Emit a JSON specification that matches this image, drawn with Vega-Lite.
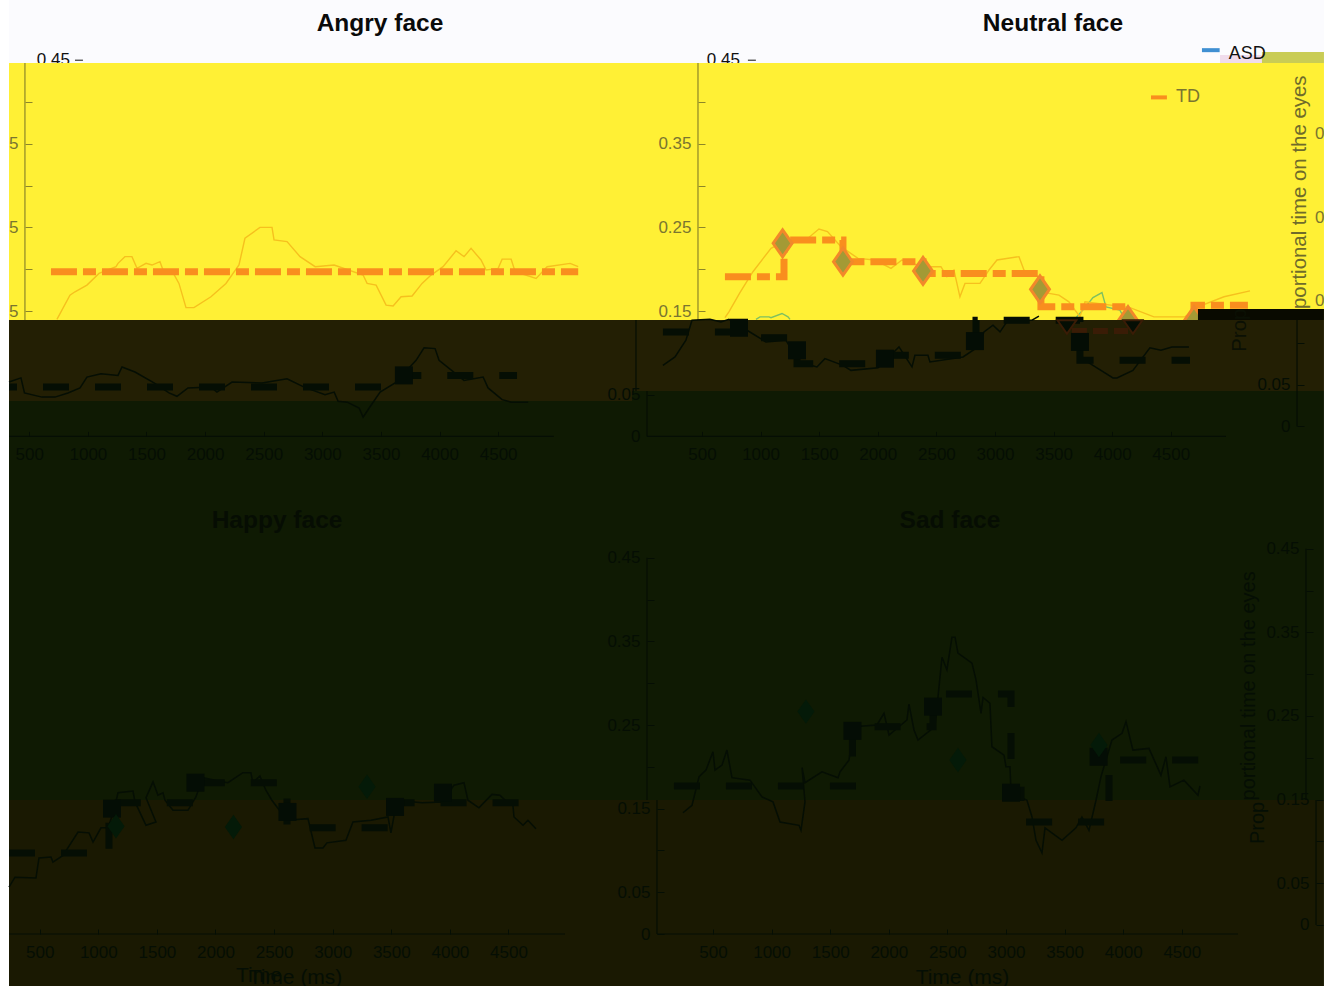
{"$schema":"https://vega.github.io/schema/vega-lite/v6.json","background":"#ffffff","padding":{"left":-5,"top":0,"right":0,"bottom":0},"autosize":{"type":"pad"},"config":{"view":{"stroke":null},"font":"Liberation Sans","text":{"font":"Liberation Sans"}},"datasets":{
"angryTdLine":[{"i":1,"t":736,"p":0.14},{"i":2,"t":847,"p":0.169},{"i":3,"t":890,"p":0.173},{"i":4,"t":992,"p":0.181},{"i":5,"t":1095,"p":0.195},{"i":6,"t":1240,"p":0.203},{"i":7,"t":1257,"p":0.207},{"i":8,"t":1316,"p":0.215},{"i":9,"t":1376,"p":0.215},{"i":10,"t":1419,"p":0.201},{"i":11,"t":1496,"p":0.207},{"i":12,"t":1547,"p":0.205},{"i":13,"t":1615,"p":0.209},{"i":14,"t":1641,"p":0.199},{"i":15,"t":1726,"p":0.196},{"i":16,"t":1777,"p":0.183},{"i":17,"t":1837,"p":0.154},{"i":18,"t":1905,"p":0.154},{"i":19,"t":2050,"p":0.167},{"i":20,"t":2178,"p":0.183},{"i":21,"t":2289,"p":0.205},{"i":22,"t":2340,"p":0.237},{"i":23,"t":2468,"p":0.25},{"i":24,"t":2571,"p":0.25},{"i":25,"t":2588,"p":0.235},{"i":26,"t":2699,"p":0.233},{"i":27,"t":2810,"p":0.215},{"i":28,"t":2939,"p":0.203},{"i":29,"t":3101,"p":0.205},{"i":30,"t":3348,"p":0.193},{"i":31,"t":3382,"p":0.183},{"i":32,"t":3459,"p":0.181},{"i":33,"t":3544,"p":0.157},{"i":34,"t":3604,"p":0.156},{"i":35,"t":3672,"p":0.167},{"i":36,"t":3766,"p":0.168},{"i":37,"t":3851,"p":0.183},{"i":38,"t":3928,"p":0.193},{"i":39,"t":4030,"p":0.203},{"i":40,"t":4141,"p":0.222},{"i":41,"t":4209,"p":0.215},{"i":42,"t":4269,"p":0.225},{"i":43,"t":4354,"p":0.211},{"i":44,"t":4397,"p":0.199},{"i":45,"t":4500,"p":0.201},{"i":46,"t":4534,"p":0.212},{"i":47,"t":4611,"p":0.212},{"i":48,"t":4645,"p":0.197},{"i":49,"t":4824,"p":0.189},{"i":50,"t":4918,"p":0.203},{"i":51,"t":5114,"p":0.207},{"i":52,"t":5183,"p":0.203}],
"angryTdMean":[{"i":1,"t":685,"p":0.197},{"i":2,"t":5183,"p":0.197}],
"angryAsdLine":[{"i":1,"t":327,"p":0.065},{"i":2,"t":429,"p":0.07},{"i":3,"t":459,"p":0.052},{"i":4,"t":608,"p":0.047},{"i":5,"t":719,"p":0.047},{"i":6,"t":830,"p":0.052},{"i":7,"t":933,"p":0.058},{"i":8,"t":992,"p":0.071},{"i":9,"t":1112,"p":0.075},{"i":10,"t":1257,"p":0.073},{"i":11,"t":1291,"p":0.083},{"i":12,"t":1402,"p":0.077},{"i":13,"t":1564,"p":0.064},{"i":14,"t":1692,"p":0.052},{"i":15,"t":1760,"p":0.048},{"i":16,"t":1854,"p":0.058},{"i":17,"t":2050,"p":0.059},{"i":18,"t":2101,"p":0.053},{"i":19,"t":2230,"p":0.065},{"i":20,"t":2486,"p":0.064},{"i":21,"t":2699,"p":0.069},{"i":22,"t":2845,"p":0.059},{"i":23,"t":3023,"p":0.05},{"i":24,"t":3101,"p":0.053},{"i":25,"t":3135,"p":0.042},{"i":26,"t":3212,"p":0.041},{"i":27,"t":3314,"p":0.034},{"i":28,"t":3348,"p":0.023},{"i":29,"t":3400,"p":0.034},{"i":30,"t":3493,"p":0.053},{"i":31,"t":3621,"p":0.064},{"i":32,"t":3800,"p":0.091},{"i":33,"t":3868,"p":0.106},{"i":34,"t":3962,"p":0.105},{"i":35,"t":3996,"p":0.091},{"i":36,"t":4209,"p":0.067},{"i":37,"t":4372,"p":0.071},{"i":38,"t":4414,"p":0.058},{"i":39,"t":4534,"p":0.044},{"i":40,"t":4611,"p":0.041},{"i":41,"t":4756,"p":0.041}],
"angryAsdMean":[{"i":1,"t":327,"p":0.059},{"i":2,"t":3621,"p":0.059},{"i":3,"t":3621,"p":0.073},{"i":4,"t":4661,"p":0.073}],
"angrySquares":[{"t":3696,"p":0.073}],
"neutralTdLine":[{"i":1,"t":696,"p":0.142},{"i":2,"t":730,"p":0.149},{"i":3,"t":824,"p":0.172},{"i":4,"t":935,"p":0.197},{"i":5,"t":1089,"p":0.225},{"i":6,"t":1200,"p":0.233},{"i":7,"t":1387,"p":0.235},{"i":8,"t":1498,"p":0.248},{"i":9,"t":1571,"p":0.245},{"i":10,"t":1686,"p":0.227},{"i":11,"t":1831,"p":0.213},{"i":12,"t":1976,"p":0.211},{"i":13,"t":2113,"p":0.201},{"i":14,"t":2206,"p":0.211},{"i":15,"t":2386,"p":0.203},{"i":16,"t":2539,"p":0.203},{"i":17,"t":2590,"p":0.191},{"i":18,"t":2650,"p":0.199},{"i":19,"t":2701,"p":0.167},{"i":20,"t":2744,"p":0.183},{"i":21,"t":2872,"p":0.183},{"i":22,"t":2949,"p":0.199},{"i":23,"t":3017,"p":0.211},{"i":24,"t":3205,"p":0.215},{"i":25,"t":3247,"p":0.199},{"i":26,"t":3375,"p":0.191},{"i":27,"t":3427,"p":0.172},{"i":28,"t":3546,"p":0.169},{"i":29,"t":3631,"p":0.161},{"i":30,"t":3725,"p":0.143},{"i":31,"t":3768,"p":0.161},{"i":32,"t":4152,"p":0.154},{"i":33,"t":4356,"p":0.143},{"i":34,"t":4621,"p":0.143},{"i":35,"t":4732,"p":0.155},{"i":36,"t":4954,"p":0.167},{"i":37,"t":5176,"p":0.174}],
"neutralTdMean":[{"i":1,"seg":0,"t":696,"p":0.191},{"i":2,"seg":0,"t":1200,"p":0.191},{"i":3,"seg":0,"t":1200,"p":0.235},{"i":4,"seg":0,"t":1703,"p":0.235},{"i":5,"seg":0,"t":1703,"p":0.209},{"i":6,"seg":0,"t":2386,"p":0.209},{"i":7,"seg":0,"t":2386,"p":0.195},{"i":8,"seg":0,"t":3392,"p":0.195},{"i":9,"seg":0,"t":3392,"p":0.155},{"i":10,"seg":0,"t":4135,"p":0.155},{"i":11,"seg":0,"t":4135,"p":0.139},{"i":12,"seg":1,"t":4698,"p":0.139},{"i":13,"seg":1,"t":4698,"p":0.157},{"i":14,"seg":1,"t":5158,"p":0.157}],
"neutralGreen":[{"i":1,"seg":0,"t":961,"p":0.14},{"i":2,"seg":0,"t":995,"p":0.143},{"i":3,"seg":0,"t":1072,"p":0.143},{"i":4,"seg":0,"t":1089,"p":0.142},{"i":5,"seg":0,"t":1183,"p":0.147},{"i":6,"seg":0,"t":1234,"p":0.143},{"i":7,"seg":0,"t":1251,"p":0.14},{"i":8,"seg":1,"t":3691,"p":0.142},{"i":9,"seg":1,"t":3768,"p":0.154},{"i":10,"seg":1,"t":3836,"p":0.166},{"i":11,"seg":1,"t":3913,"p":0.172},{"i":12,"seg":1,"t":3947,"p":0.155},{"i":13,"seg":1,"t":4066,"p":0.151},{"i":14,"seg":1,"t":4100,"p":0.142}],
"neutralDiamonds":[{"t":1188,"p":0.231},{"t":1703,"p":0.209},{"t":2386,"p":0.198},{"t":3384,"p":0.176},{"t":4135,"p":0.139},{"t":4698,"p":0.139}],
"neutralHalfDiamonds":[{"t":3614,"p":0.139},{"t":4177,"p":0.139}],
"neutralAsdLine":[{"i":1,"seg":0,"t":167,"p":0.085},{"i":2,"seg":0,"t":270,"p":0.095},{"i":3,"seg":0,"t":363,"p":0.115},{"i":4,"seg":0,"t":415,"p":0.139},{"i":5,"seg":0,"t":568,"p":0.14},{"i":6,"seg":0,"t":662,"p":0.137},{"i":7,"seg":0,"t":730,"p":0.14},{"i":8,"seg":0,"t":884,"p":0.127},{"i":9,"seg":0,"t":1046,"p":0.113},{"i":10,"seg":0,"t":1217,"p":0.115},{"i":11,"seg":0,"t":1328,"p":0.089},{"i":12,"seg":0,"t":1481,"p":0.083},{"i":13,"seg":0,"t":1549,"p":0.093},{"i":14,"seg":0,"t":1703,"p":0.085},{"i":15,"seg":0,"t":1771,"p":0.079},{"i":16,"seg":0,"t":2002,"p":0.082},{"i":17,"seg":0,"t":2181,"p":0.107},{"i":18,"seg":0,"t":2292,"p":0.083},{"i":19,"seg":0,"t":2317,"p":0.097},{"i":20,"seg":0,"t":2428,"p":0.097},{"i":21,"seg":0,"t":2445,"p":0.089},{"i":22,"seg":0,"t":2727,"p":0.095},{"i":23,"seg":0,"t":2855,"p":0.107},{"i":24,"seg":0,"t":2906,"p":0.125},{"i":25,"seg":0,"t":2983,"p":0.133},{"i":26,"seg":0,"t":3043,"p":0.125},{"i":27,"seg":0,"t":3111,"p":0.139},{"i":28,"seg":0,"t":3316,"p":0.139},{"i":29,"seg":0,"t":3375,"p":0.144},{"i":30,"seg":1,"t":3708,"p":0.107},{"i":31,"seg":1,"t":3708,"p":0.094},{"i":32,"seg":1,"t":3802,"p":0.088},{"i":33,"seg":1,"t":4007,"p":0.07},{"i":34,"seg":1,"t":4041,"p":0.07},{"i":35,"seg":1,"t":4177,"p":0.079},{"i":36,"seg":1,"t":4322,"p":0.106},{"i":37,"seg":1,"t":4416,"p":0.103},{"i":38,"seg":1,"t":4510,"p":0.107},{"i":39,"seg":1,"t":4655,"p":0.107}],
"neutralAsdMean":[{"i":1,"t":167,"p":0.125},{"i":2,"t":816,"p":0.125},{"i":3,"t":816,"p":0.118},{"i":4,"t":1311,"p":0.118},{"i":5,"t":1311,"p":0.087},{"i":6,"t":2019,"p":0.087},{"i":7,"t":2019,"p":0.097},{"i":8,"t":2838,"p":0.097},{"i":9,"t":2838,"p":0.139},{"i":10,"t":3725,"p":0.139},{"i":11,"t":3725,"p":0.091},{"i":12,"t":4664,"p":0.091}],
"neutralSquares":[{"t":816,"p":0.13},{"t":1311,"p":0.103},{"t":2061,"p":0.093},{"t":2829,"p":0.114},{"t":3725,"p":0.113}],
"happyAsdLine":[{"i":1,"t":238,"p":0.056},{"i":2,"t":289,"p":0.068},{"i":3,"t":468,"p":0.067},{"i":4,"t":494,"p":0.091},{"i":5,"t":596,"p":0.092},{"i":6,"t":613,"p":0.086},{"i":7,"t":699,"p":0.094},{"i":8,"t":827,"p":0.122},{"i":9,"t":921,"p":0.121},{"i":10,"t":955,"p":0.11},{"i":11,"t":1023,"p":0.127},{"i":12,"t":1083,"p":0.127},{"i":13,"t":1134,"p":0.148},{"i":14,"t":1168,"p":0.169},{"i":15,"t":1296,"p":0.171},{"i":16,"t":1313,"p":0.158},{"i":17,"t":1407,"p":0.13},{"i":18,"t":1492,"p":0.134},{"i":19,"t":1407,"p":0.163},{"i":20,"t":1467,"p":0.182},{"i":21,"t":1509,"p":0.166},{"i":22,"t":1552,"p":0.169},{"i":23,"t":1569,"p":0.16},{"i":24,"t":1637,"p":0.148},{"i":25,"t":1765,"p":0.148},{"i":26,"t":1833,"p":0.164},{"i":27,"t":1892,"p":0.187},{"i":28,"t":2055,"p":0.182},{"i":29,"t":2106,"p":0.181},{"i":30,"t":2234,"p":0.193},{"i":31,"t":2302,"p":0.193},{"i":32,"t":2319,"p":0.181},{"i":33,"t":2379,"p":0.189},{"i":34,"t":2430,"p":0.172},{"i":35,"t":2481,"p":0.16},{"i":36,"t":2610,"p":0.136},{"i":37,"t":2789,"p":0.138},{"i":38,"t":2849,"p":0.103},{"i":39,"t":2917,"p":0.103},{"i":40,"t":2951,"p":0.109},{"i":41,"t":3113,"p":0.112},{"i":42,"t":3173,"p":0.134},{"i":43,"t":3327,"p":0.136},{"i":44,"t":3472,"p":0.14},{"i":45,"t":3497,"p":0.121},{"i":46,"t":3532,"p":0.148},{"i":47,"t":3549,"p":0.16},{"i":48,"t":3762,"p":0.157},{"i":49,"t":3941,"p":0.158},{"i":50,"t":4035,"p":0.178},{"i":51,"t":4120,"p":0.181},{"i":52,"t":4154,"p":0.16},{"i":53,"t":4248,"p":0.151},{"i":54,"t":4359,"p":0.167},{"i":55,"t":4427,"p":0.166},{"i":56,"t":4487,"p":0.158},{"i":57,"t":4538,"p":0.154},{"i":58,"t":4547,"p":0.14},{"i":59,"t":4624,"p":0.13},{"i":60,"t":4666,"p":0.136},{"i":61,"t":4734,"p":0.126}],
"happyAsdMean":[{"i":1,"t":238,"p":0.097},{"i":2,"t":1091,"p":0.097},{"i":3,"t":1091,"p":0.157},{"i":4,"t":1850,"p":0.157},{"i":5,"t":1850,"p":0.181},{"i":6,"t":2610,"p":0.181},{"i":7,"t":2610,"p":0.127},{"i":8,"t":3532,"p":0.127},{"i":9,"t":3532,"p":0.157},{"i":10,"t":4684,"p":0.157}],
"happySquares":[{"t":1117,"p":0.15},{"t":1829,"p":0.181},{"t":2614,"p":0.146},{"t":3532,"p":0.152},{"t":3941,"p":0.169}],
"happyDiamonds":[{"t":1151,"p":0.129},{"t":2153,"p":0.128},{"t":3293,"p":0.176}],
"sadAsdLine":[{"i":1,"t":244,"p":0.145},{"i":2,"t":321,"p":0.154},{"i":3,"t":381,"p":0.188},{"i":4,"t":440,"p":0.196},{"i":5,"t":500,"p":0.218},{"i":6,"t":517,"p":0.196},{"i":7,"t":577,"p":0.202},{"i":8,"t":619,"p":0.22},{"i":9,"t":662,"p":0.187},{"i":10,"t":816,"p":0.184},{"i":11,"t":918,"p":0.164},{"i":12,"t":1012,"p":0.158},{"i":13,"t":1072,"p":0.134},{"i":14,"t":1234,"p":0.13},{"i":15,"t":1251,"p":0.124},{"i":16,"t":1285,"p":0.158},{"i":17,"t":1260,"p":0.199},{"i":18,"t":1285,"p":0.181},{"i":19,"t":1430,"p":0.194},{"i":20,"t":1567,"p":0.187},{"i":21,"t":1584,"p":0.194},{"i":22,"t":1660,"p":0.208},{"i":23,"t":1703,"p":0.248},{"i":24,"t":1899,"p":0.25},{"i":25,"t":1959,"p":0.264},{"i":26,"t":2002,"p":0.238},{"i":27,"t":2155,"p":0.256},{"i":28,"t":2172,"p":0.275},{"i":29,"t":2215,"p":0.244},{"i":30,"t":2249,"p":0.232},{"i":31,"t":2394,"p":0.248},{"i":32,"t":2428,"p":0.295},{"i":33,"t":2454,"p":0.331},{"i":34,"t":2496,"p":0.316},{"i":35,"t":2539,"p":0.355},{"i":36,"t":2565,"p":0.355},{"i":37,"t":2590,"p":0.336},{"i":38,"t":2710,"p":0.324},{"i":39,"t":2744,"p":0.304},{"i":40,"t":2787,"p":0.264},{"i":41,"t":2804,"p":0.283},{"i":42,"t":2863,"p":0.276},{"i":43,"t":2880,"p":0.224},{"i":44,"t":2983,"p":0.214},{"i":45,"t":3000,"p":0.2},{"i":46,"t":3034,"p":0.2},{"i":47,"t":3043,"p":0.169},{"i":48,"t":3179,"p":0.16},{"i":49,"t":3222,"p":0.14},{"i":50,"t":3256,"p":0.112},{"i":51,"t":3307,"p":0.097},{"i":52,"t":3333,"p":0.127},{"i":53,"t":3478,"p":0.112},{"i":54,"t":3597,"p":0.127},{"i":55,"t":3648,"p":0.14},{"i":56,"t":3708,"p":0.124},{"i":57,"t":3768,"p":0.16},{"i":58,"t":3810,"p":0.188},{"i":59,"t":3904,"p":0.232},{"i":60,"t":3990,"p":0.24},{"i":61,"t":4024,"p":0.254},{"i":62,"t":4083,"p":0.22},{"i":63,"t":4220,"p":0.222},{"i":64,"t":4322,"p":0.19},{"i":65,"t":4365,"p":0.212},{"i":66,"t":4399,"p":0.176},{"i":67,"t":4518,"p":0.184},{"i":68,"t":4638,"p":0.166},{"i":69,"t":4655,"p":0.177}],
"sadAsdMean":[{"i":1,"t":167,"p":0.177},{"i":2,"t":1690,"p":0.177},{"i":3,"t":1690,"p":0.248},{"i":4,"t":2377,"p":0.248},{"i":5,"t":2377,"p":0.287},{"i":6,"t":3043,"p":0.287},{"i":7,"t":3043,"p":0.172},{"i":8,"t":3128,"p":0.172},{"i":9,"t":3128,"p":0.134},{"i":10,"t":3879,"p":0.134},{"i":11,"t":3879,"p":0.208},{"i":12,"t":4655,"p":0.208}],
"sadSquares":[{"t":1690,"p":0.243},{"t":2377,"p":0.272},{"t":3043,"p":0.169},{"t":3790,"p":0.212}],
"sadDiamonds":[{"t":1293,"p":0.266},{"t":2590,"p":0.208},{"t":3793,"p":0.226}]
},
"spacing":0,"bounds":"flush","align":"each","columns":3,
"concat":[
{"width":623,"height":490,"resolve":{"scale":{"x":"independent","y":"independent"},"axis":{"x":"independent","y":"independent"}},"layer":[
{"data":{"values":[{"band":"white","t0":327,"t1":5642,"p0":0.522,"p1":0.4467}]},"mark":"rect","encoding":{"x":{"field":"t0","type":"quantitative","scale":{"domain":[327,5642],"nice":false,"zero":false},"axis":null},"x2":{"field":"t1"},"y":{"field":"p0","type":"quantitative","scale":{"domain":[-0.0641,0.522],"nice":false,"zero":false},"axis":null},"y2":{"field":"p1"},"color":{"field":"band","type":"nominal","scale":{"domain":["white","yellow","olive","green","pink","noise","black","brown"],"range":["#fbfbfe","#fff035","#231f04","#0f1a03","#f0dcec","#c9cc55","#090a00","#1a1902"]},"legend":null}}},
{"data":{"values":[{"t":847,"p":0.45,"label":"0.45"}]},"mark":{"type":"text","align":"right","baseline":"middle","fontSize":17,"color":"#111111"},"encoding":{"x":{"field":"t","type":"quantitative","scale":{"domain":[327,5642],"nice":false,"zero":false},"axis":null},"y":{"field":"p","type":"quantitative","scale":{"domain":[-0.0641,0.522],"nice":false,"zero":false},"axis":null},"text":{"field":"label"}}},
{"data":{"values":[{"t0":890,"t1":958,"p":0.45}]},"mark":{"type":"rule","color":"#111111","strokeWidth":1},"encoding":{"x":{"field":"t0","type":"quantitative","scale":{"domain":[327,5642],"nice":false,"zero":false},"axis":null},"x2":{"field":"t1"},"y":{"field":"p","type":"quantitative","scale":{"domain":[-0.0641,0.522],"nice":false,"zero":false},"axis":null}}},
{"data":{"values":[{"band":"yellow","t0":327,"t1":5642,"p0":0.4467,"p1":0.1392}]},"mark":"rect","encoding":{"x":{"field":"t0","type":"quantitative","scale":{"domain":[327,5642],"nice":false,"zero":false},"axis":null},"x2":{"field":"t1"},"y":{"field":"p0","type":"quantitative","scale":{"domain":[-0.0641,0.522],"nice":false,"zero":false},"axis":null},"y2":{"field":"p1"},"color":{"field":"band","type":"nominal","scale":{"domain":["white","yellow","olive","green","pink","noise","black","brown"],"range":["#fbfbfe","#fff035","#231f04","#0f1a03","#f0dcec","#c9cc55","#090a00","#1a1902"]},"legend":null}}},
{"data":{"values":[{"t":463,"p0":0.4467,"p1":0.1392}]},"mark":{"type":"rule","color":"#8c8628","strokeWidth":1.2},"encoding":{"x":{"field":"t","type":"quantitative","scale":{"domain":[327,5642],"nice":false,"zero":false},"axis":null},"y":{"field":"p0","type":"quantitative","scale":{"domain":[-0.0641,0.522],"nice":false,"zero":false},"axis":{"orient":"left","offset":-16,"minExtent":0,"values":[0.4,0.35,0.3,0.25,0.2,0.15],"domain":false,"grid":false,"title":null,"tickSize":-7,"tickColor":"#8c8628","labelColor":"#7a7530","labelFontSize":17,"labelFont":"Liberation Sans","labelPadding":14,"labelExpr":"round(datum.value*100)%10==5 ? '5' : ''","zindex":1}},"y2":{"field":"p1"}}},
{"data":{"name":"angryTdLine"},"mark":{"type":"line","color":"#f6c01e","strokeWidth":1.4},"encoding":{"x":{"field":"t","type":"quantitative","scale":{"domain":[327,5642],"nice":false,"zero":false},"axis":null},"y":{"field":"p","type":"quantitative","scale":{"domain":[-0.0641,0.522],"nice":false,"zero":false},"axis":null},"order":{"field":"i"}}},
{"data":{"name":"angryTdMean"},"mark":{"type":"line","color":"#f98e1e","strokeWidth":7,"strokeDash":[26,6,13,6]},"encoding":{"x":{"field":"t","type":"quantitative","scale":{"domain":[327,5642],"nice":false,"zero":false},"axis":null},"y":{"field":"p","type":"quantitative","scale":{"domain":[-0.0641,0.522],"nice":false,"zero":false},"axis":null},"order":{"field":"i"}}},
{"data":{"values":[{"band":"olive","t0":327,"t1":5642,"p0":0.1392,"p1":0.0423},{"band":"green","t0":327,"t1":5642,"p0":0.0423,"p1":-0.0641}]},"mark":"rect","encoding":{"x":{"field":"t0","type":"quantitative","scale":{"domain":[327,5642],"nice":false,"zero":false},"axis":null},"x2":{"field":"t1"},"y":{"field":"p0","type":"quantitative","scale":{"domain":[-0.0641,0.522],"nice":false,"zero":false},"axis":null},"y2":{"field":"p1"},"color":{"field":"band","type":"nominal","scale":{"domain":["white","yellow","olive","green","pink","noise","black","brown"],"range":["#fbfbfe","#fff035","#231f04","#0f1a03","#f0dcec","#c9cc55","#090a00","#1a1902"]},"legend":null}}},
{"data":{"values":[{"t0":327,"t1":4974,"p":0}]},"mark":{"type":"rule","color":"#050e04","strokeWidth":1.2},"encoding":{"x":{"field":"t0","type":"quantitative","scale":{"domain":[327,5642],"nice":false,"zero":false},"axis":{"orient":"bottom","offset":-53.6,"values":[500,1000,1500,2000,2500,3000,3500,4000,4500],"format":"d","domain":false,"grid":false,"title":null,"tickSize":-5,"tickColor":"#050e04","labelColor":"#050e04","labelFontSize":17,"labelFont":"Liberation Sans","labelPadding":15,"labelOverlap":false,"labelFlush":false,"zindex":1}},"x2":{"field":"t1"},"y":{"field":"p","type":"quantitative","scale":{"domain":[-0.0641,0.522],"nice":false,"zero":false},"axis":null}}},
{"data":{"name":"angryAsdLine"},"mark":{"type":"line","color":"#050e04","strokeWidth":1.5},"encoding":{"x":{"field":"t","type":"quantitative","scale":{"domain":[327,5642],"nice":false,"zero":false},"axis":null},"y":{"field":"p","type":"quantitative","scale":{"domain":[-0.0641,0.522],"nice":false,"zero":false},"axis":null},"order":{"field":"i"}}},
{"data":{"name":"angryAsdMean"},"mark":{"type":"line","color":"#050e04","strokeWidth":7,"strokeDash":[26,26],"strokeDashOffset":18},"encoding":{"x":{"field":"t","type":"quantitative","scale":{"domain":[327,5642],"nice":false,"zero":false},"axis":null},"y":{"field":"p","type":"quantitative","scale":{"domain":[-0.0641,0.522],"nice":false,"zero":false},"axis":null},"order":{"field":"i"}}},
{"data":{"name":"angrySquares"},"mark":{"type":"point","shape":"square","filled":true,"size":324,"color":"#040d05","opacity":1},"encoding":{"x":{"field":"t","type":"quantitative","scale":{"domain":[327,5642],"nice":false,"zero":false},"axis":null},"y":{"field":"p","type":"quantitative","scale":{"domain":[-0.0641,0.522],"nice":false,"zero":false},"axis":null}}},
{"data":{"values":[{"t":3492,"p":0.4935,"label":"Angry face"}]},"mark":{"type":"text","align":"center","baseline":"middle","fontSize":24.5,"fontWeight":"bold","color":"#0a0a0a"},"encoding":{"x":{"field":"t","type":"quantitative","scale":{"domain":[327,5642],"nice":false,"zero":false},"axis":null},"y":{"field":"p","type":"quantitative","scale":{"domain":[-0.0641,0.522],"nice":false,"zero":false},"axis":null},"text":{"field":"label"}}}
]},
{"width":605,"height":490,"resolve":{"scale":{"x":"independent","y":"independent"},"axis":{"x":"independent","y":"independent"}},"layer":[
{"data":{"values":[{"band":"white","t0":-97,"t1":5807,"p0":0.522,"p1":0.4467},{"band":"pink","t0":4920,"t1":5278,"p0":0.4562,"p1":0.4467},{"band":"noise","t0":5278,"t1":5807,"p0":0.4598,"p1":0.4467}]},"mark":"rect","encoding":{"x":{"field":"t0","type":"quantitative","scale":{"domain":[-97,5065],"nice":false,"zero":false},"axis":null},"x2":{"field":"t1"},"y":{"field":"p0","type":"quantitative","scale":{"domain":[-0.0641,0.522],"nice":false,"zero":false},"axis":null},"y2":{"field":"p1"},"color":{"field":"band","type":"nominal","scale":{"domain":["white","yellow","olive","green","pink","noise","black","brown"],"range":["#fbfbfe","#fff035","#231f04","#0f1a03","#f0dcec","#c9cc55","#090a00","#1a1902"]},"legend":null}}},
{"data":{"values":[{"t":824,"p":0.45,"label":"0.45"}]},"mark":{"type":"text","align":"right","baseline":"middle","fontSize":17,"color":"#111111"},"encoding":{"x":{"field":"t","type":"quantitative","scale":{"domain":[-97,5065],"nice":false,"zero":false},"axis":null},"y":{"field":"p","type":"quantitative","scale":{"domain":[-0.0641,0.522],"nice":false,"zero":false},"axis":null},"text":{"field":"label"}}},
{"data":{"values":[{"t":4994,"p":0.457,"label":"ASD"}]},"mark":{"type":"text","align":"left","baseline":"middle","fontSize":18,"color":"#111111"},"encoding":{"x":{"field":"t","type":"quantitative","scale":{"domain":[-97,5065],"nice":false,"zero":false},"axis":null},"y":{"field":"p","type":"quantitative","scale":{"domain":[-0.0641,0.522],"nice":false,"zero":false},"axis":null},"text":{"field":"label"}}},
{"data":{"values":[{"t0":892,"t1":960,"p":0.45}]},"mark":{"type":"rule","color":"#111111","strokeWidth":1},"encoding":{"x":{"field":"t0","type":"quantitative","scale":{"domain":[-97,5065],"nice":false,"zero":false},"axis":null},"x2":{"field":"t1"},"y":{"field":"p","type":"quantitative","scale":{"domain":[-0.0641,0.522],"nice":false,"zero":false},"axis":null}}},
{"data":{"values":[{"t0":4766,"t1":4917,"p":0.462}]},"mark":{"type":"rule","color":"#3f8fd2","strokeWidth":4},"encoding":{"x":{"field":"t0","type":"quantitative","scale":{"domain":[-97,5065],"nice":false,"zero":false},"axis":null},"x2":{"field":"t1"},"y":{"field":"p","type":"quantitative","scale":{"domain":[-0.0641,0.522],"nice":false,"zero":false},"axis":null}}},
{"data":{"values":[{"band":"yellow","t0":-97,"t1":5807,"p0":0.4467,"p1":0.1392}]},"mark":"rect","encoding":{"x":{"field":"t0","type":"quantitative","scale":{"domain":[-97,5065],"nice":false,"zero":false},"axis":null},"x2":{"field":"t1"},"y":{"field":"p0","type":"quantitative","scale":{"domain":[-0.0641,0.522],"nice":false,"zero":false},"axis":null},"y2":{"field":"p1"},"color":{"field":"band","type":"nominal","scale":{"domain":["white","yellow","olive","green","pink","noise","black","brown"],"range":["#fbfbfe","#fff035","#231f04","#0f1a03","#f0dcec","#c9cc55","#090a00","#1a1902"]},"legend":null}}},
{"data":{"values":[{"t":466,"p0":0.4467,"p1":0.1392}]},"mark":{"type":"rule","color":"#8c8628","strokeWidth":1.2},"encoding":{"x":{"field":"t","type":"quantitative","scale":{"domain":[-97,5065],"nice":false,"zero":false},"axis":null},"y":{"field":"p0","type":"quantitative","scale":{"domain":[-0.0641,0.522],"nice":false,"zero":false},"axis":{"orient":"left","offset":-66,"values":[0.4,0.35,0.3,0.25,0.2,0.15],"domain":false,"grid":false,"title":null,"tickSize":-7,"tickColor":"#8c8628","labelColor":"#7a7530","labelFontSize":17,"labelFont":"Liberation Sans","labelPadding":14,"labelExpr":"round(datum.value*100)%10==5 ? format(datum.value,'.2f') : ''","zindex":1}},"y2":{"field":"p1"}}},
{"data":{"name":"neutralGreen"},"mark":{"type":"line","color":"#7fc060","strokeWidth":1.4},"encoding":{"x":{"field":"t","type":"quantitative","scale":{"domain":[-97,5065],"nice":false,"zero":false},"axis":null},"y":{"field":"p","type":"quantitative","scale":{"domain":[-0.0641,0.522],"nice":false,"zero":false},"axis":null},"detail":{"field":"seg"},"order":{"field":"i"}}},
{"data":{"name":"neutralTdLine"},"mark":{"type":"line","color":"#f6c01e","strokeWidth":1.4},"encoding":{"x":{"field":"t","type":"quantitative","scale":{"domain":[-97,5065],"nice":false,"zero":false},"axis":null},"y":{"field":"p","type":"quantitative","scale":{"domain":[-0.0641,0.522],"nice":false,"zero":false},"axis":null},"order":{"field":"i"}}},
{"data":{"name":"neutralTdMean"},"mark":{"type":"line","color":"#f98e1e","strokeWidth":7,"strokeDash":[26,6,13,6]},"encoding":{"x":{"field":"t","type":"quantitative","scale":{"domain":[-97,5065],"nice":false,"zero":false},"axis":null},"y":{"field":"p","type":"quantitative","scale":{"domain":[-0.0641,0.522],"nice":false,"zero":false},"axis":null},"detail":{"field":"seg"},"order":{"field":"i"}}},
{"data":{"name":"neutralDiamonds"},"mark":{"type":"point","shape":"M0,-1L0.7,0L0,1L-0.7,0Z","filled":true,"size":729,"fill":"#a39a35","stroke":"#f2882a","strokeWidth":3,"opacity":1},"encoding":{"x":{"field":"t","type":"quantitative","scale":{"domain":[-97,5065],"nice":false,"zero":false},"axis":null},"y":{"field":"p","type":"quantitative","scale":{"domain":[-0.0641,0.522],"nice":false,"zero":false},"axis":null}}},
{"data":{"values":[{"t0":4331,"t1":4467,"p":0.4055}]},"mark":{"type":"rule","color":"#f98e1e","strokeWidth":4},"encoding":{"x":{"field":"t0","type":"quantitative","scale":{"domain":[-97,5065],"nice":false,"zero":false},"axis":null},"x2":{"field":"t1"},"y":{"field":"p","type":"quantitative","scale":{"domain":[-0.0641,0.522],"nice":false,"zero":false},"axis":null}}},
{"data":{"values":[{"t":4544,"p":0.4055,"label":"TD"}]},"mark":{"type":"text","align":"left","baseline":"middle","fontSize":18,"color":"#7a7530"},"encoding":{"x":{"field":"t","type":"quantitative","scale":{"domain":[-97,5065],"nice":false,"zero":false},"axis":null},"y":{"field":"p","type":"quantitative","scale":{"domain":[-0.0641,0.522],"nice":false,"zero":false},"axis":null},"text":{"field":"label"}}},
{"data":{"values":[{"band":"black","t0":4732,"t1":5807,"p0":0.1524,"p1":0.1392},{"band":"olive","t0":-97,"t1":5807,"p0":0.1392,"p1":0.0543},{"band":"green","t0":-97,"t1":5807,"p0":0.0543,"p1":-0.0641}]},"mark":"rect","encoding":{"x":{"field":"t0","type":"quantitative","scale":{"domain":[-97,5065],"nice":false,"zero":false},"axis":null},"x2":{"field":"t1"},"y":{"field":"p0","type":"quantitative","scale":{"domain":[-0.0641,0.522],"nice":false,"zero":false},"axis":null},"y2":{"field":"p1"},"color":{"field":"band","type":"nominal","scale":{"domain":["white","yellow","olive","green","pink","noise","black","brown"],"range":["#fbfbfe","#fff035","#231f04","#0f1a03","#f0dcec","#c9cc55","#090a00","#1a1902"]},"legend":null}}},
{"data":{"values":[{"t":-63,"p0":0.1392,"p1":0.0543},{"t":31,"p0":0.0543,"p1":0}]},"mark":{"type":"rule","color":"#050e04","strokeWidth":1.2},"encoding":{"x":{"field":"t","type":"quantitative","scale":{"domain":[-97,5065],"nice":false,"zero":false},"axis":null},"y":{"field":"p0","type":"quantitative","scale":{"domain":[-0.0641,0.522],"nice":false,"zero":false},"axis":{"orient":"left","offset":-15,"values":[0.05,0],"domain":false,"grid":false,"title":null,"tickSize":-7,"tickColor":"#050e04","labelColor":"#050e04","labelFontSize":17,"labelFont":"Liberation Sans","labelPadding":14,"labelExpr":"datum.value==0 ? '0' : format(datum.value,'.2f')","zindex":1}},"y2":{"field":"p1"}}},
{"data":{"values":[{"t0":31,"t1":4971,"p":0}]},"mark":{"type":"rule","color":"#050e04","strokeWidth":1.2},"encoding":{"x":{"field":"t0","type":"quantitative","scale":{"domain":[-97,5065],"nice":false,"zero":false},"axis":{"orient":"bottom","offset":-53.6,"values":[500,1000,1500,2000,2500,3000,3500,4000,4500],"format":"d","domain":false,"grid":false,"title":null,"tickSize":-5,"tickColor":"#050e04","labelColor":"#050e04","labelFontSize":17,"labelFont":"Liberation Sans","labelPadding":15,"labelOverlap":false,"labelFlush":false,"zindex":1}},"x2":{"field":"t1"},"y":{"field":"p","type":"quantitative","scale":{"domain":[-0.0641,0.522],"nice":false,"zero":false},"axis":null}}},
{"data":{"values":[{"t0":3657,"t1":4135,"p":0.126}]},"mark":{"type":"rule","color":"#3a1c06","strokeWidth":6,"strokeDash":[15,6]},"encoding":{"x":{"field":"t0","type":"quantitative","scale":{"domain":[-97,5065],"nice":false,"zero":false},"axis":null},"x2":{"field":"t1"},"y":{"field":"p","type":"quantitative","scale":{"domain":[-0.0641,0.522],"nice":false,"zero":false},"axis":null}}},
{"data":{"name":"neutralAsdLine"},"mark":{"type":"line","color":"#050e04","strokeWidth":1.5},"encoding":{"x":{"field":"t","type":"quantitative","scale":{"domain":[-97,5065],"nice":false,"zero":false},"axis":null},"y":{"field":"p","type":"quantitative","scale":{"domain":[-0.0641,0.522],"nice":false,"zero":false},"axis":null},"detail":{"field":"seg"},"order":{"field":"i"}}},
{"data":{"name":"neutralAsdMean"},"mark":{"type":"line","color":"#050e04","strokeWidth":7,"strokeDash":[26,26]},"encoding":{"x":{"field":"t","type":"quantitative","scale":{"domain":[-97,5065],"nice":false,"zero":false},"axis":null},"y":{"field":"p","type":"quantitative","scale":{"domain":[-0.0641,0.522],"nice":false,"zero":false},"axis":null},"order":{"field":"i"}}},
{"data":{"name":"neutralSquares"},"mark":{"type":"point","shape":"square","filled":true,"size":324,"color":"#040d05","opacity":1},"encoding":{"x":{"field":"t","type":"quantitative","scale":{"domain":[-97,5065],"nice":false,"zero":false},"axis":null},"y":{"field":"p","type":"quantitative","scale":{"domain":[-0.0641,0.522],"nice":false,"zero":false},"axis":null}}},
{"data":{"name":"neutralHalfDiamonds"},"mark":{"type":"point","shape":"M-0.7,0L0.7,0L0,1Z","filled":true,"size":729,"fill":"#050e04","stroke":"#3a1c06","strokeWidth":2,"opacity":1},"encoding":{"x":{"field":"t","type":"quantitative","scale":{"domain":[-97,5065],"nice":false,"zero":false},"axis":null},"y":{"field":"p","type":"quantitative","scale":{"domain":[-0.0641,0.522],"nice":false,"zero":false},"axis":null}}},
{"data":{"values":[{"t":3495,"p":0.4935,"label":"Neutral face"}]},"mark":{"type":"text","align":"center","baseline":"middle","fontSize":24.5,"fontWeight":"bold","color":"#0a0a0a"},"encoding":{"x":{"field":"t","type":"quantitative","scale":{"domain":[-97,5065],"nice":false,"zero":false},"axis":null},"y":{"field":"p","type":"quantitative","scale":{"domain":[-0.0641,0.522],"nice":false,"zero":false},"axis":null},"text":{"field":"label"}}}
]},
{"width":87,"height":490,"resolve":{"scale":{"x":"independent","y":"independent"},"axis":{"x":"independent","y":"independent"}},"layer":[
{"data":{"values":[{"t":5577,"p0":0.1273,"p1":0}]},"mark":{"type":"rule","color":"#050e04","strokeWidth":1.2},"encoding":{"x":{"field":"t","type":"quantitative","scale":{"domain":[5065,5807],"nice":false,"zero":false},"axis":null},"y":{"field":"p0","type":"quantitative","scale":{"domain":[-0.0761,0.51],"nice":false,"zero":false},"axis":{"orient":"left","offset":-60,"values":[0.1,0.05,0],"domain":false,"grid":false,"title":null,"tickSize":-7,"tickColor":"#050e04","labelColor":"#050e04","labelFontSize":17,"labelFont":"Liberation Sans","labelPadding":14,"labelExpr":"datum.value==0 ? '0' : (round(datum.value*100)==5 ? '0.05' : '')","zindex":1}},"y2":{"field":"p1"}}},
{"data":{"values":[{"t":5602,"p":0.28,"label":"portional time on the eyes"}]},"mark":{"type":"text","align":"center","baseline":"middle","angle":270,"fontSize":20.4,"color":"#6f6b2a"},"encoding":{"x":{"field":"t","type":"quantitative","scale":{"domain":[5065,5807],"nice":false,"zero":false},"axis":null},"y":{"field":"p","type":"quantitative","scale":{"domain":[-0.0761,0.51],"nice":false,"zero":false},"axis":{"orient":"left","offset":-91,"values":[0.35,0.25,0.15],"domain":false,"ticks":false,"grid":false,"title":null,"labelColor":"#7a7530","labelFontSize":17,"labelFont":"Liberation Sans","labelPadding":4,"labelExpr":"'0'","zindex":1}},"text":{"field":"label"}}},
{"data":{"values":[{"t":5090,"p":0.115,"label":"Prop"}]},"mark":{"type":"text","align":"center","baseline":"middle","angle":270,"fontSize":20.4,"color":"#0b1004"},"encoding":{"x":{"field":"t","type":"quantitative","scale":{"domain":[5065,5807],"nice":false,"zero":false},"axis":null},"y":{"field":"p","type":"quantitative","scale":{"domain":[-0.0761,0.51],"nice":false,"zero":false},"axis":null},"text":{"field":"label"}}}
]},
{"width":623,"height":496,"resolve":{"scale":{"x":"independent","y":"independent"},"axis":{"x":"independent","y":"independent"}},"layer":[
{"data":{"values":[{"band":"green","t0":238,"t1":5554,"p0":0.5311,"p1":0.1603},{"band":"brown","t0":238,"t1":5554,"p0":0.1603,"p1":-0.0622}]},"mark":"rect","encoding":{"x":{"field":"t0","type":"quantitative","scale":{"domain":[238,5554],"nice":false,"zero":false},"axis":null},"x2":{"field":"t1"},"y":{"field":"p0","type":"quantitative","scale":{"domain":[-0.0622,0.5311],"nice":false,"zero":false},"axis":null},"y2":{"field":"p1"},"color":{"field":"band","type":"nominal","scale":{"domain":["white","yellow","olive","green","pink","noise","black","brown"],"range":["#fbfbfe","#fff035","#231f04","#0f1a03","#f0dcec","#c9cc55","#090a00","#1a1902"]},"legend":null}}},
{"data":{"values":[{"t0":238,"t1":4982,"p":0}]},"mark":{"type":"rule","color":"#050e04","strokeWidth":1.2},"encoding":{"x":{"field":"t0","type":"quantitative","scale":{"domain":[238,5554],"nice":false,"zero":false},"axis":{"orient":"bottom","offset":-52,"values":[500,1000,1500,2000,2500,3000,3500,4000,4500],"format":"d","domain":false,"grid":false,"title":"Time (ms)","titleFontSize":21,"titleFontWeight":"normal","titleFont":"Liberation Sans","titleColor":"#050e04","titleX":286,"titleY":32,"titleAlign":"center","titleBaseline":"top","tickSize":-5,"tickColor":"#050e04","labelColor":"#050e04","labelFontSize":17,"labelFont":"Liberation Sans","labelPadding":15,"labelOverlap":false,"labelFlush":false,"zindex":1}},"x2":{"field":"t1"},"y":{"field":"p","type":"quantitative","scale":{"domain":[-0.0622,0.5311],"nice":false,"zero":false},"axis":null}}},
{"data":{"name":"happyAsdLine"},"mark":{"type":"line","color":"#050e04","strokeWidth":1.5},"encoding":{"x":{"field":"t","type":"quantitative","scale":{"domain":[238,5554],"nice":false,"zero":false},"axis":null},"y":{"field":"p","type":"quantitative","scale":{"domain":[-0.0622,0.5311],"nice":false,"zero":false},"axis":null},"order":{"field":"i"}}},
{"data":{"name":"happyAsdMean"},"mark":{"type":"line","color":"#050e04","strokeWidth":7,"strokeDash":[26,26]},"encoding":{"x":{"field":"t","type":"quantitative","scale":{"domain":[238,5554],"nice":false,"zero":false},"axis":null},"y":{"field":"p","type":"quantitative","scale":{"domain":[-0.0622,0.5311],"nice":false,"zero":false},"axis":null},"order":{"field":"i"}}},
{"data":{"name":"happySquares"},"mark":{"type":"point","shape":"square","filled":true,"size":324,"color":"#040d05","opacity":1},"encoding":{"x":{"field":"t","type":"quantitative","scale":{"domain":[238,5554],"nice":false,"zero":false},"axis":null},"y":{"field":"p","type":"quantitative","scale":{"domain":[-0.0622,0.5311],"nice":false,"zero":false},"axis":null}}},
{"data":{"name":"happyDiamonds"},"mark":{"type":"point","shape":"M0,-1L0.7,0L0,1L-0.7,0Z","filled":true,"size":600,"fill":"#041a08","stroke":"#041a08","strokeWidth":0,"opacity":1},"encoding":{"x":{"field":"t","type":"quantitative","scale":{"domain":[238,5554],"nice":false,"zero":false},"axis":null},"y":{"field":"p","type":"quantitative","scale":{"domain":[-0.0622,0.5311],"nice":false,"zero":false},"axis":null}}},
{"data":{"values":[{"t":2525,"p":0.494,"label":"Happy face"}]},"mark":{"type":"text","align":"center","baseline":"middle","fontSize":24.5,"fontWeight":"bold","color":"#060d03"},"encoding":{"x":{"field":"t","type":"quantitative","scale":{"domain":[238,5554],"nice":false,"zero":false},"axis":null},"y":{"field":"p","type":"quantitative","scale":{"domain":[-0.0622,0.5311],"nice":false,"zero":false},"axis":null},"text":{"field":"label"}}},
{"data":{"values":[{"t":2175,"p":-0.05,"label":"Time"}]},"mark":{"type":"text","align":"left","baseline":"middle","fontSize":21,"color":"#050e04"},"encoding":{"x":{"field":"t","type":"quantitative","scale":{"domain":[238,5554],"nice":false,"zero":false},"axis":null},"y":{"field":"p","type":"quantitative","scale":{"domain":[-0.0622,0.5311],"nice":false,"zero":false},"axis":null},"text":{"field":"label"}}}
]},
{"width":605,"height":496,"resolve":{"scale":{"x":"independent","y":"independent"},"axis":{"x":"independent","y":"independent"}},"layer":[
{"data":{"values":[{"band":"green","t0":-191,"t1":5713,"p0":0.5311,"p1":0.1603},{"band":"brown","t0":-191,"t1":5713,"p0":0.1603,"p1":-0.0622}]},"mark":"rect","encoding":{"x":{"field":"t0","type":"quantitative","scale":{"domain":[-191,4971],"nice":false,"zero":false},"axis":null},"x2":{"field":"t1"},"y":{"field":"p0","type":"quantitative","scale":{"domain":[-0.0622,0.5311],"nice":false,"zero":false},"axis":null},"y2":{"field":"p1"},"color":{"field":"band","type":"nominal","scale":{"domain":["white","yellow","olive","green","pink","noise","black","brown"],"range":["#fbfbfe","#fff035","#231f04","#0f1a03","#f0dcec","#c9cc55","#090a00","#1a1902"]},"legend":null}}},
{"data":{"values":[{"t":-63,"p0":0.45,"p1":0.1603}]},"mark":{"type":"rule","color":"#050e04","strokeWidth":1.2},"encoding":{"x":{"field":"t","type":"quantitative","scale":{"domain":[-191,4971],"nice":false,"zero":false},"axis":null},"y":{"field":"p0","type":"quantitative","scale":{"domain":[-0.0622,0.5311],"nice":false,"zero":false},"axis":{"orient":"left","offset":-15,"values":[0.45,0.4,0.35,0.3,0.25,0.2],"domain":false,"grid":false,"title":null,"tickSize":-7,"tickColor":"#050e04","labelColor":"#050e04","labelFontSize":17,"labelFont":"Liberation Sans","labelPadding":14,"labelExpr":"round(datum.value*100)%10==5 ? format(datum.value,'.2f') : ''","zindex":1}},"y2":{"field":"p1"}}},
{"data":{"values":[{"t":22,"p0":0.1603,"p1":0}]},"mark":{"type":"rule","color":"#050e04","strokeWidth":1.2},"encoding":{"x":{"field":"t","type":"quantitative","scale":{"domain":[-191,4971],"nice":false,"zero":false},"axis":null},"y":{"field":"p0","type":"quantitative","scale":{"domain":[-0.0622,0.5311],"nice":false,"zero":false},"axis":{"orient":"left","offset":-25,"values":[0.15,0.1,0.05,0],"domain":false,"grid":false,"title":null,"tickSize":-7,"tickColor":"#050e04","labelColor":"#050e04","labelFontSize":17,"labelFont":"Liberation Sans","labelPadding":14,"labelExpr":"datum.value==0 ? '0' : (round(datum.value*100)%10==5 ? format(datum.value,'.2f') : '')","zindex":1}},"y2":{"field":"p1"}}},
{"data":{"values":[{"t0":22,"t1":4979,"p":0}]},"mark":{"type":"rule","color":"#050e04","strokeWidth":1.2},"encoding":{"x":{"field":"t0","type":"quantitative","scale":{"domain":[-191,4971],"nice":false,"zero":false},"axis":{"orient":"bottom","offset":-52,"values":[500,1000,1500,2000,2500,3000,3500,4000,4500],"format":"d","domain":false,"grid":false,"title":"Time (ms)","titleFontSize":21,"titleFontWeight":"normal","titleFont":"Liberation Sans","titleColor":"#050e04","titleX":330,"titleY":32,"titleAlign":"center","titleBaseline":"top","tickSize":-5,"tickColor":"#050e04","labelColor":"#050e04","labelFontSize":17,"labelFont":"Liberation Sans","labelPadding":15,"labelOverlap":false,"labelFlush":false,"zindex":1}},"x2":{"field":"t1"},"y":{"field":"p","type":"quantitative","scale":{"domain":[-0.0622,0.5311],"nice":false,"zero":false},"axis":null}}},
{"data":{"name":"sadAsdLine"},"mark":{"type":"line","color":"#050e04","strokeWidth":1.5},"encoding":{"x":{"field":"t","type":"quantitative","scale":{"domain":[-191,4971],"nice":false,"zero":false},"axis":null},"y":{"field":"p","type":"quantitative","scale":{"domain":[-0.0622,0.5311],"nice":false,"zero":false},"axis":null},"order":{"field":"i"}}},
{"data":{"name":"sadAsdMean"},"mark":{"type":"line","color":"#050e04","strokeWidth":7,"strokeDash":[26,26]},"encoding":{"x":{"field":"t","type":"quantitative","scale":{"domain":[-191,4971],"nice":false,"zero":false},"axis":null},"y":{"field":"p","type":"quantitative","scale":{"domain":[-0.0622,0.5311],"nice":false,"zero":false},"axis":null},"order":{"field":"i"}}},
{"data":{"name":"sadSquares"},"mark":{"type":"point","shape":"square","filled":true,"size":324,"color":"#040d05","opacity":1},"encoding":{"x":{"field":"t","type":"quantitative","scale":{"domain":[-191,4971],"nice":false,"zero":false},"axis":null},"y":{"field":"p","type":"quantitative","scale":{"domain":[-0.0622,0.5311],"nice":false,"zero":false},"axis":null}}},
{"data":{"name":"sadDiamonds"},"mark":{"type":"point","shape":"M0,-1L0.7,0L0,1L-0.7,0Z","filled":true,"size":600,"fill":"#041a08","stroke":"#041a08","strokeWidth":0,"opacity":1},"encoding":{"x":{"field":"t","type":"quantitative","scale":{"domain":[-191,4971],"nice":false,"zero":false},"axis":null},"y":{"field":"p","type":"quantitative","scale":{"domain":[-0.0622,0.5311],"nice":false,"zero":false},"axis":null}}},
{"data":{"values":[{"t":2522,"p":0.494,"label":"Sad face"}]},"mark":{"type":"text","align":"center","baseline":"middle","fontSize":24.5,"fontWeight":"bold","color":"#060d03"},"encoding":{"x":{"field":"t","type":"quantitative","scale":{"domain":[-191,4971],"nice":false,"zero":false},"axis":null},"y":{"field":"p","type":"quantitative","scale":{"domain":[-0.0622,0.5311],"nice":false,"zero":false},"axis":null},"text":{"field":"label"}}}
]},
{"width":87,"height":496,"resolve":{"scale":{"x":"independent","y":"independent"},"axis":{"x":"independent","y":"independent"}},"layer":[
{"data":{"values":[{"t":5559,"p0":0.45,"p1":0.1495}]},"mark":{"type":"rule","color":"#050e04","strokeWidth":1.2},"encoding":{"x":{"field":"t","type":"quantitative","scale":{"domain":[4971,5713],"nice":false,"zero":false},"axis":null},"y":{"field":"p0","type":"quantitative","scale":{"domain":[-0.073,0.5203],"nice":false,"zero":false},"axis":{"orient":"left","offset":-69,"values":[0.45,0.4,0.35,0.3,0.25,0.2],"domain":false,"grid":false,"title":null,"tickSize":-7,"tickColor":"#050e04","labelColor":"#050e04","labelFontSize":17,"labelFont":"Liberation Sans","labelPadding":14,"labelExpr":"round(datum.value*100)%10==5 ? format(datum.value,'.2f') : ''","zindex":1}},"y2":{"field":"p1"}}},
{"data":{"values":[{"t":5645,"p0":0.1495,"p1":0}]},"mark":{"type":"rule","color":"#050e04","strokeWidth":1.2},"encoding":{"x":{"field":"t","type":"quantitative","scale":{"domain":[4971,5713],"nice":false,"zero":false},"axis":null},"y":{"field":"p0","type":"quantitative","scale":{"domain":[-0.073,0.5203],"nice":false,"zero":false},"axis":{"orient":"left","offset":-79,"values":[0.15,0.1,0.05,0],"domain":false,"grid":false,"title":null,"tickSize":-7,"tickColor":"#050e04","labelColor":"#050e04","labelFontSize":17,"labelFont":"Liberation Sans","labelPadding":14,"labelExpr":"datum.value==0 ? '0' : (round(datum.value*100)%10==5 ? format(datum.value,'.2f') : '')","zindex":1}},"y2":{"field":"p1"}}},
{"data":{"values":[{"t":5073,"p":0.286,"label":"portional time on the eyes"},{"t":5150,"p":0.122,"label":"Prop"}]},"mark":{"type":"text","align":"center","baseline":"middle","angle":270,"fontSize":20,"color":"#050e04"},"encoding":{"x":{"field":"t","type":"quantitative","scale":{"domain":[4971,5713],"nice":false,"zero":false},"axis":null},"y":{"field":"p","type":"quantitative","scale":{"domain":[-0.073,0.5203],"nice":false,"zero":false},"axis":null},"text":{"field":"label"}}}
]}
]}
